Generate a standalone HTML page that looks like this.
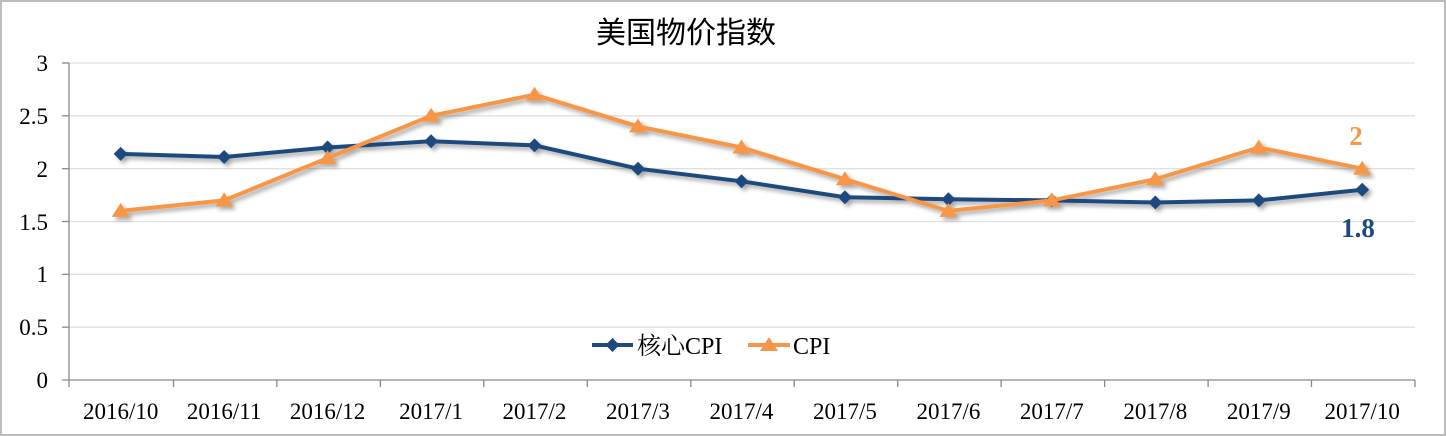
<!DOCTYPE html>
<html><head><meta charset="utf-8"><style>
html,body{margin:0;padding:0;background:#fff;}
svg{display:block;}
</style></head><body>
<svg width="1446" height="436" xmlns="http://www.w3.org/2000/svg">
<defs>
<filter id="sh" x="-5%" y="-20%" width="110%" height="140%"><feDropShadow dx="3" dy="3" stdDeviation="2" flood-color="#000" flood-opacity="0.35"/></filter>
</defs>
<rect x="1" y="1" width="1444" height="434" fill="#fff" stroke="#bdbdbd" stroke-width="2"/>
<text x="686" y="43" font-family="'Liberation Sans','Noto Sans CJK SC',sans-serif" font-size="30" text-anchor="middle" fill="#000">美国物价指数</text>
<g stroke="#e0e0e0" stroke-width="1.3">
<line x1="69" x2="1415" y1="63" y2="63"/><line x1="69" x2="1415" y1="115.8" y2="115.8"/>
<line x1="69" x2="1415" y1="168.7" y2="168.7"/><line x1="69" x2="1415" y1="221.5" y2="221.5"/>
<line x1="69" x2="1415" y1="274.3" y2="274.3"/><line x1="69" x2="1415" y1="327.2" y2="327.2"/>
</g>
<g stroke="#888" stroke-width="1.3">
<line x1="69" x2="69" y1="63" y2="387"/><line x1="62" x2="1415" y1="380" y2="380"/>
<line x1="62" x2="69" y1="63" y2="63"/><line x1="62" x2="69" y1="115.8" y2="115.8"/><line x1="62" x2="69" y1="168.7" y2="168.7"/><line x1="62" x2="69" y1="221.5" y2="221.5"/><line x1="62" x2="69" y1="274.3" y2="274.3"/><line x1="62" x2="69" y1="327.2" y2="327.2"/>
<line x1="173.5" x2="173.5" y1="380" y2="387"/><line x1="276.9" x2="276.9" y1="380" y2="387"/><line x1="380.4" x2="380.4" y1="380" y2="387"/><line x1="483.8" x2="483.8" y1="380" y2="387"/><line x1="587.3" x2="587.3" y1="380" y2="387"/><line x1="690.8" x2="690.8" y1="380" y2="387"/><line x1="794.2" x2="794.2" y1="380" y2="387"/><line x1="897.7" x2="897.7" y1="380" y2="387"/><line x1="1001.1" x2="1001.1" y1="380" y2="387"/><line x1="1104.6" x2="1104.6" y1="380" y2="387"/><line x1="1208.1" x2="1208.1" y1="380" y2="387"/><line x1="1311.5" x2="1311.5" y1="380" y2="387"/><line x1="1415" x2="1415" y1="380" y2="387"/>
</g>
<g font-family="'Liberation Serif',serif" font-size="23" fill="#000" text-anchor="end">
<text x="48" y="71">3</text><text x="48" y="124">2.5</text><text x="48" y="177">2</text><text x="48" y="230">1.5</text><text x="48" y="282">1</text><text x="48" y="335">0.5</text><text x="48" y="388">0</text>
</g>
<g font-family="'Liberation Serif',serif" font-size="23" fill="#000" text-anchor="middle">
<text x="120.7" y="419">2016/10</text><text x="224.2" y="419">2016/11</text><text x="327.6" y="419">2016/12</text><text x="431.1" y="419">2017/1</text><text x="534.5" y="419">2017/2</text><text x="638" y="419">2017/3</text><text x="741.5" y="419">2017/4</text><text x="844.9" y="419">2017/5</text><text x="948.4" y="419">2017/6</text><text x="1051.8" y="419">2017/7</text><text x="1155.3" y="419">2017/8</text><text x="1258.8" y="419">2017/9</text><text x="1362.2" y="419">2017/10</text>
</g>
<g filter="url(#sh)">
<polyline fill="none" stroke="#1f4a7e" stroke-width="4" points="120.7,153.9 224.2,157 327.6,147.5 431.1,141.2 534.5,145.4 638,168.7 741.5,181.3 844.9,197.2 948.4,199.3 1051.8,200.4 1155.3,202.5 1258.8,200.4 1362.2,189.8"/>
<g fill="#1f4a7e">
<path d="M120.7,146.9l7,7l-7,7l-7,-7z"/><path d="M224.2,150l7,7l-7,7l-7,-7z"/><path d="M327.6,140.5l7,7l-7,7l-7,-7z"/><path d="M431.1,134.2l7,7l-7,7l-7,-7z"/><path d="M534.5,138.4l7,7l-7,7l-7,-7z"/><path d="M638,161.7l7,7l-7,7l-7,-7z"/><path d="M741.5,174.3l7,7l-7,7l-7,-7z"/><path d="M844.9,190.2l7,7l-7,7l-7,-7z"/><path d="M948.4,192.3l7,7l-7,7l-7,-7z"/><path d="M1051.8,193.4l7,7l-7,7l-7,-7z"/><path d="M1155.3,195.5l7,7l-7,7l-7,-7z"/><path d="M1258.8,193.4l7,7l-7,7l-7,-7z"/><path d="M1362.2,182.8l7,7l-7,7l-7,-7z"/>
</g>
<polyline fill="none" stroke="#f79646" stroke-width="4" points="120.7,210.9 224.2,200.4 327.6,158.1 431.1,115.8 534.5,94.7 638,126.4 741.5,147.5 844.9,179.2 948.4,210.9 1051.8,200.4 1155.3,179.2 1258.8,147.5 1362.2,168.7"/>
<g fill="#f79646">
<path d="M120.7,202.9l9,14h-18z"/><path d="M224.2,192.4l9,14h-18z"/><path d="M327.6,150.1l9,14h-18z"/><path d="M431.1,107.8l9,14h-18z"/><path d="M534.5,86.7l9,14h-18z"/><path d="M638,118.4l9,14h-18z"/><path d="M741.5,139.5l9,14h-18z"/><path d="M844.9,171.2l9,14h-18z"/><path d="M948.4,202.9l9,14h-18z"/><path d="M1051.8,192.4l9,14h-18z"/><path d="M1155.3,171.2l9,14h-18z"/><path d="M1258.8,139.5l9,14h-18z"/><path d="M1362.2,160.7l9,14h-18z"/>
</g>
</g>
<text x="1356" y="145" font-family="'Liberation Serif',serif" font-size="27" font-weight="bold" fill="#f79646" text-anchor="middle">2</text>
<text x="1358" y="237" font-family="'Liberation Serif',serif" font-size="27" font-weight="bold" fill="#1f4a7e" text-anchor="middle">1.8</text>
<line x1="592" x2="633" y1="345" y2="345" stroke="#1f4a7e" stroke-width="4"/>
<path d="M612.5,338l7,7l-7,7l-7,-7z" fill="#1f4a7e"/>
<text x="637" y="354" font-family="'Liberation Serif','Noto Serif CJK SC',serif" font-size="24" fill="#000">核心CPI</text>
<line x1="748" x2="790" y1="345" y2="345" stroke="#f79646" stroke-width="4"/>
<path d="M769,337l9,14h-18z" fill="#f79646"/>
<text x="793" y="354" font-family="'Liberation Serif',serif" font-size="24" fill="#000">CPI</text>
</svg>
</body></html>
